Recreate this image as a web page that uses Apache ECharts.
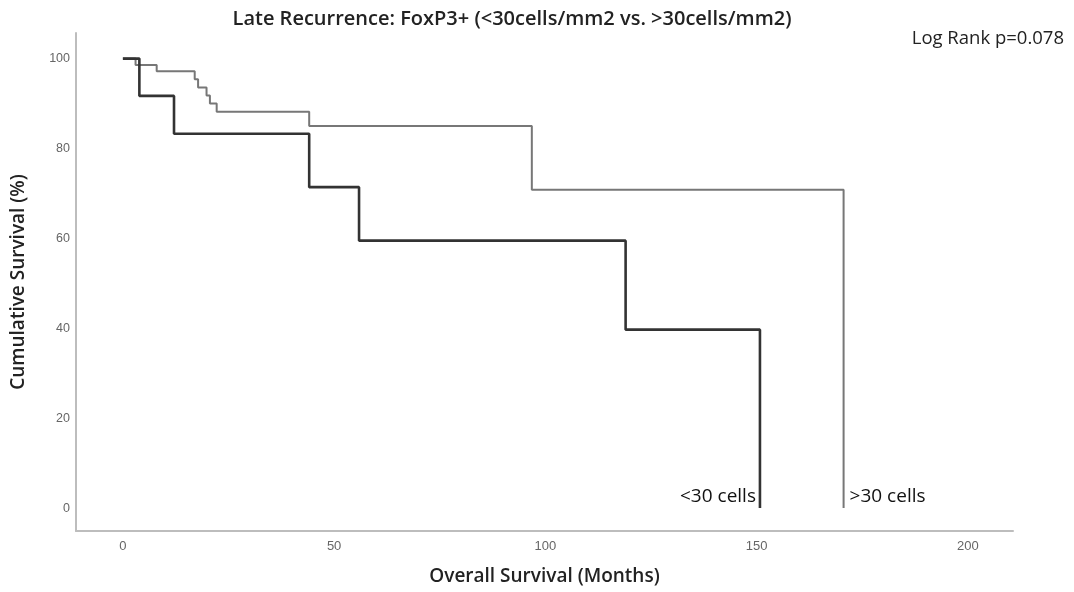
<!DOCTYPE html>
<html>
<head>
<meta charset="utf-8">
<script src="https://cdn.jsdelivr.net/npm/echarts@6/dist/echarts.min.js"></script>
<style>
  html, body { margin: 0; padding: 0; background: #fff; }
  #chart { width: 1074px; height: 592px; }
</style>
</head>
<body>
<div id="chart"></div>
<script>
// Kaplan-Meier estimates, late recurrence by FoxP3+ density
const lowTimes = [0, 3.9, 12.1, 44.1, 55.9, 119.0, 150.8];
const lowSurvival = [100, 91.7, 83.3, 71.4, 59.5, 39.7, 0];

const highTimes = [0, 3.0, 8.0, 17.0, 17.8, 19.8, 20.6, 22.2, 44.1, 96.8, 170.6];
const highSurvival = [100, 98.6, 97.2, 95.4, 93.6, 91.8, 90.0, 88.2, 85.0, 70.8, 0];

const xTicks = [0, 50, 100, 150, 200];
const yTicks = [0, 20, 40, 60, 80, 100];

const groupNames = ['<30 cells', '>30 cells'];
const titleText = 'Late Recurrence: FoxP3+ (<30cells/mm2 vs. >30cells/mm2)';
const pValueText = 'Log Rank p=0.078';

const FONT = '"Open Sans", "Liberation Sans", sans-serif';
const TICK_FONT = '"Liberation Sans", sans-serif';

function pairs(xs, ys) {
  return xs.map((x, i) => [x, ys[i]]);
}

const chart = echarts.init(document.getElementById('chart'), null, { renderer: 'canvas' });

const axisLineStyle = { show: true, onZero: false, lineStyle: { color: '#bdbdbd', width: 2 } };

chart.setOption({
  animation: false,
  backgroundColor: '#ffffff',
  title: [
    {
      text: titleText,
      left: 507,
      textAlign: 'center',
      top: 4,
      textStyle: { fontFamily: FONT, fontSize: 20, fontWeight: 600, color: '#222' }
    },
    {
      text: pValueText,
      right: 5,
      top: 24,
      textStyle: { fontFamily: FONT, fontSize: 18.5, fontWeight: 'normal', color: '#222' }
    }
  ],
  grid: { left: 76, top: 33, right: 61, bottom: 61, containLabel: false },
  xAxis: {
    type: 'value',
    min: -11.1,
    max: 210.7,
    name: 'Overall Survival (Months)',
    nameLocation: 'middle',
    nameGap: 36,
    nameTextStyle: { fontFamily: FONT, fontSize: 19, fontWeight: 600, color: '#222' },
    axisLine: axisLineStyle,
    axisTick: { show: false },
    splitLine: { show: false },
    axisLabel: {
      customValues: xTicks,
      fontFamily: TICK_FONT,
      fontSize: 13,
      color: '#666',
      margin: 9
    }
  },
  yAxis: {
    type: 'value',
    min: -5.1,
    max: 105.7,
    name: 'Cumulative Survival (%)',
    nameLocation: 'middle',
    nameGap: 48,
    nameTextStyle: { fontFamily: FONT, fontSize: 19, fontWeight: 600, color: '#222' },
    axisLine: axisLineStyle,
    axisTick: { show: false },
    splitLine: { show: false },
    axisLabel: {
      customValues: yTicks,
      fontFamily: TICK_FONT,
      fontSize: 12.5,
      color: '#666',
      margin: 6
    }
  },
  series: [
    {
      name: groupNames[0],
      type: 'line',
      step: 'end',
      symbol: 'none',
      data: pairs(lowTimes, lowSurvival),
      lineStyle: { color: '#333333', width: 2.6 },
      z: 3,
      markPoint: {
        symbol: 'circle',
        symbolSize: 0,
        data: [{
          coord: [lowTimes[lowTimes.length - 1], 2.5],
          label: {
            show: true,
            position: 'left',
            distance: 4,
            formatter: groupNames[0],
            fontFamily: FONT,
            fontSize: 19,
            color: '#111'
          }
        }]
      }
    },
    {
      name: groupNames[1],
      type: 'line',
      step: 'end',
      symbol: 'none',
      data: pairs(highTimes, highSurvival),
      lineStyle: { color: '#777777', width: 2 },
      z: 2,
      markPoint: {
        symbol: 'circle',
        symbolSize: 0,
        data: [{
          coord: [highTimes[highTimes.length - 1], 2.5],
          label: {
            show: true,
            position: 'right',
            distance: 6,
            formatter: groupNames[1],
            fontFamily: FONT,
            fontSize: 19,
            color: '#111'
          }
        }]
      }
    }
  ]
});
</script>
</body>
</html>
